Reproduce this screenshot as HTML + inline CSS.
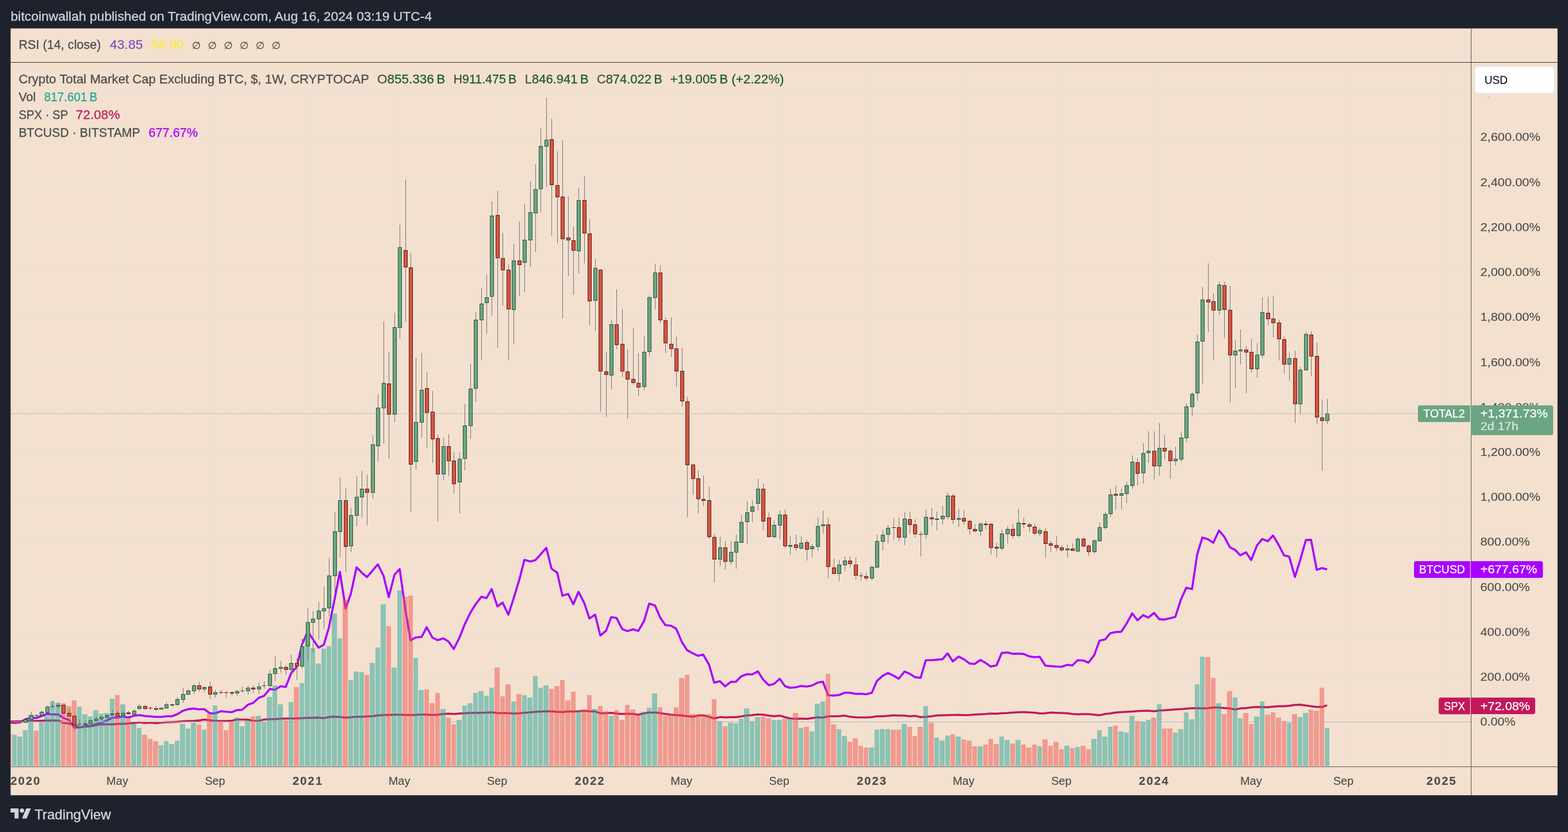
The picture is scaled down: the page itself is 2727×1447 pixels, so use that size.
<!DOCTYPE html>
<html lang="en"><head><meta charset="utf-8"><title>TOTAL2 chart — TradingView</title>
<style>html,body{margin:0;padding:0;background:#1e222d;}body{width:2727px;height:1447px;overflow:hidden}svg{display:block}text{white-space:pre}</style>
</head><body>
<svg width="2727" height="1447" viewBox="0 0 2727 1447" font-family="'Liberation Sans', sans-serif">
<rect width="2727" height="1447" fill="#1e222d"/>
<rect x="18.45" y="49.45" width="2690.3" height="1333.65" fill="#f3e0cf"/>
<path d="M18.5 1177.5H2558M18.5 1099.5H2558M18.5 1021.5H2558M18.5 942.5H2558M18.5 864.5H2558M18.5 786.5H2558M18.5 708.5H2558M18.5 630.5H2558M18.5 551.5H2558M18.5 473.5H2558M18.5 395.5H2558M18.5 317.5H2558M18.5 238.5H2558M18.5 160.5H2558M44.5 109V1333M204.5 109V1333M374.5 109V1333M535.5 109V1333M695.5 109V1333M865.5 109V1333M1025.5 109V1333M1186.5 109V1333M1356.5 109V1333M1516.5 109V1333M1676.5 109V1333M1846.5 109V1333M2007.5 109V1333M2176.5 109V1333M2337.5 109V1333M2507.5 109V1333" stroke="#e3e3e4" stroke-width="1" fill="none"/>
<clipPath id="pc"><rect x="18.5" y="109" width="2539.5" height="1224"/></clipPath>
<g clip-path="url(#pc)">
<polyline points="16.1,1256.3 25.1,1257.2 35.1,1256.3 44.1,1251.1 54.1,1248.3 63.1,1248.8 72.1,1245.5 82.1,1241.7 91.1,1242.6 101.1,1242.6 110.1,1248.6 120.1,1252.1 129.1,1265.2 138.1,1265.2 148.1,1262.9 157.1,1262.4 167.1,1259.1 176.1,1257.2 186.1,1252.9 195.1,1248.3 204.1,1248.3 214.1,1246 223.1,1248 233.1,1244.9 242.1,1243.7 252.1,1245.2 261.1,1246 271.1,1246.8 280.1,1246.8 289.1,1245.7 299.1,1245.7 308.1,1242.2 318.1,1236.3 327.1,1233.4 337.1,1232.2 346.1,1233.7 355.1,1233.3 365.1,1240.6 374.1,1240.6 384.1,1237 393.1,1237.7 403.1,1238.7 412.1,1235 421.1,1234.5 431.1,1225.6 440.1,1222.5 450.1,1213.5 459.1,1210.4 469.1,1198.3 478.1,1199.5 488.1,1193.5 497.1,1194.7 506.1,1171.3 516.1,1159.7 525.1,1121.1 535.1,1098.1 544.1,1111.4 554.1,1126.4 563.1,1121.5 572.1,1090.9 582.1,1041.4 591.1,994.6 601.1,1058.3 610.1,1032.9 620.1,986.6 629.1,995.8 638.1,1003.7 648.1,992.2 657.1,981.3 667.1,1001.8 676.1,1038.5 686.1,999.4 695.1,989.7 705.1,1060.7 714.1,1113.8 723.1,1108.5 733.1,1107.8 742.1,1090.9 752.1,1109 761.1,1113.3 771.1,1110.2 780.1,1115.7 789.1,1128.8 799.1,1109 808.1,1086 818.1,1065.5 827.1,1051 837.1,1037.8 846.1,1040.2 855.1,1024.5 865.1,1054.7 874.1,1047.9 884.1,1069.1 893.1,1041.4 903.1,1008.2 912.1,973.7 922.1,976.5 931.1,974.2 940.1,964.2 950.1,952.8 959.1,988.9 969.1,996 978.1,1036.1 988.1,1032.9 997.1,1051 1006.1,1029.3 1016.1,1048.6 1025.1,1075.7 1035.1,1069.1 1044.1,1105.4 1054.1,1096.9 1063.1,1073.2 1072.1,1074.7 1082.1,1094 1091.1,1097.6 1101.1,1094.5 1110.1,1097.4 1120.1,1080 1129.1,1049.8 1139.1,1053 1148.1,1074 1157.1,1087.2 1167.1,1088.3 1176.1,1093.6 1186.1,1117.1 1195.1,1130.9 1205.1,1136.3 1214.1,1140.6 1223.1,1138.6 1233.1,1156 1242.1,1187.2 1252.1,1184.7 1261.1,1193.6 1271.1,1185.9 1280.1,1185.6 1289.1,1176.2 1299.1,1172.5 1308.1,1173 1318.1,1167.7 1327.1,1181.8 1337.1,1191.7 1346.1,1189.5 1356.1,1180.5 1365.1,1193.3 1374.1,1196.3 1384.1,1195.3 1393.1,1193.1 1403.1,1194 1412.1,1192.3 1422.1,1187.2 1431.1,1185.5 1440.1,1209.2 1450.1,1209.6 1459.1,1208.7 1469.1,1204.8 1478.1,1204.8 1488.1,1206.7 1497.1,1206.5 1506.1,1207.5 1516.1,1205.1 1525.1,1184.3 1535.1,1175.4 1544.1,1170.5 1554.1,1175.1 1563.1,1180.5 1573.1,1167.8 1582.1,1171.8 1591.1,1177.6 1601.1,1178.9 1610.1,1148.2 1620.1,1148.2 1629.1,1147.4 1639.1,1146.5 1648.1,1136.3 1657.1,1150.3 1667.1,1141.9 1676.1,1146.4 1686.1,1153.9 1695.1,1154.8 1705.1,1147.8 1714.1,1152.9 1723.1,1159.3 1733.1,1157.3 1742.1,1135.6 1752.1,1134.8 1761.1,1137.1 1771.1,1136.7 1780.1,1137.4 1790.1,1141.6 1799.1,1143 1808.1,1142.2 1818.1,1157.8 1827.1,1158.5 1837.1,1159.3 1846.1,1159.8 1856.1,1156.2 1865.1,1157.3 1874.1,1148.3 1884.1,1148.7 1893.1,1152.5 1903.1,1139.1 1912.1,1114.3 1922.1,1111.9 1931.1,1101.2 1940.1,1099.3 1950.1,1098.8 1959.1,1084.8 1969.1,1066.7 1978.1,1078.8 1988.1,1069.9 1997.1,1074.2 2007.1,1066 2016.1,1076.9 2025.1,1077.6 2035.1,1075.2 2044.1,1072.8 2054.1,1041.9 2063.1,1022.3 2073.1,1024.6 2082.1,964.1 2091.1,934.9 2101.1,938 2110.1,944.1 2120.1,922.6 2129.1,933.4 2139.1,951.8 2148.1,956.4 2157.1,965.7 2167.1,960.7 2176.1,974 2186.1,948.6 2195.1,937.5 2205.1,941.3 2214.1,931.3 2224.1,948.3 2233.1,965.8 2242.1,968.1 2252.1,1003.4 2261.1,974.5 2271.1,939.2 2280.1,938.9 2290.1,991.1 2299.1,988 2308.1,990.2" fill="none" stroke="#aa00ff" stroke-width="3.6" stroke-linejoin="round" stroke-linecap="butt"/>
<polyline points="16.1,1254.8 25.1,1254.8 35.1,1254.4 44.1,1254.1 54.1,1253.8 63.1,1254.1 72.1,1253.4 82.1,1253.2 91.1,1252.9 101.1,1253.2 110.1,1257.2 120.1,1258.3 129.1,1260.6 138.1,1264.9 148.1,1263.7 157.1,1263.4 167.1,1261.4 176.1,1259.8 186.1,1259.8 195.1,1259.8 204.1,1259.1 214.1,1259.1 223.1,1258.3 233.1,1257.5 242.1,1256.3 252.1,1257.5 261.1,1256.8 271.1,1257.8 280.1,1256.8 289.1,1256 299.1,1255.7 308.1,1255.2 318.1,1254.4 327.1,1254.1 337.1,1253.7 346.1,1252.9 355.1,1251.4 365.1,1252.7 374.1,1253.9 384.1,1253.9 393.1,1253.9 403.1,1253.4 412.1,1251.4 421.1,1251.4 431.1,1251.4 440.1,1253.9 450.1,1253.9 459.1,1251.4 469.1,1250.7 478.1,1250.7 488.1,1249.8 497.1,1249.8 506.1,1249.5 516.1,1249.5 525.1,1249 535.1,1248.3 544.1,1248.6 554.1,1248.1 563.1,1249 572.1,1247.1 582.1,1246.6 591.1,1247.1 601.1,1248.1 610.1,1247.6 620.1,1246.6 629.1,1246.6 638.1,1246.1 648.1,1245.4 657.1,1244.2 667.1,1243.5 676.1,1243.5 686.1,1243 695.1,1243 705.1,1243.4 714.1,1243.4 723.1,1243.2 733.1,1242.7 742.1,1242.7 752.1,1243.4 761.1,1243 771.1,1241.7 780.1,1241.3 789.1,1241.7 799.1,1241 808.1,1240.5 818.1,1240.1 827.1,1239.8 837.1,1239.8 846.1,1239.3 855.1,1239.1 865.1,1240.1 874.1,1240.3 884.1,1240.3 893.1,1241 903.1,1240.5 912.1,1239.8 922.1,1238.8 931.1,1238.1 940.1,1237.4 950.1,1236.9 959.1,1237.2 969.1,1238.1 978.1,1238.6 988.1,1237.2 997.1,1237.6 1006.1,1236.9 1016.1,1236.2 1025.1,1236.9 1035.1,1237.4 1044.1,1240.5 1054.1,1240.3 1063.1,1239.8 1072.1,1241 1082.1,1241.7 1091.1,1241.3 1101.1,1241.7 1110.1,1243 1120.1,1240.5 1129.1,1239.3 1139.1,1239.3 1148.1,1240.1 1157.1,1241.7 1167.1,1243 1176.1,1243.7 1186.1,1244.2 1195.1,1245.4 1205.1,1246.6 1214.1,1244.2 1223.1,1244.2 1233.1,1246.6 1242.1,1249.5 1252.1,1247.1 1261.1,1247.8 1271.1,1247.3 1280.1,1247.3 1289.1,1246.1 1299.1,1244.2 1308.1,1243.7 1318.1,1242.5 1327.1,1243 1337.1,1244.6 1346.1,1245.8 1356.1,1244.6 1365.1,1247.3 1374.1,1249.5 1384.1,1250.2 1393.1,1249.7 1403.1,1250.2 1412.1,1249 1422.1,1247.5 1431.1,1248.3 1440.1,1245.8 1450.1,1245.8 1459.1,1245.4 1469.1,1244.6 1478.1,1246.6 1488.1,1247.5 1497.1,1247.8 1506.1,1247.8 1516.1,1247.3 1525.1,1245.8 1535.1,1245.8 1544.1,1244.9 1554.1,1243.9 1563.1,1244.4 1573.1,1244.4 1582.1,1245.8 1591.1,1244.9 1601.1,1247.3 1610.1,1246.8 1620.1,1245.8 1629.1,1244.2 1639.1,1243.9 1648.1,1243.7 1657.1,1243.4 1667.1,1243.2 1676.1,1243.7 1686.1,1243.4 1695.1,1242.7 1705.1,1242.2 1714.1,1241.7 1723.1,1241 1733.1,1241.3 1742.1,1240.5 1752.1,1240.1 1761.1,1239.3 1771.1,1238.8 1780.1,1238.4 1790.1,1239.1 1799.1,1239.6 1808.1,1240.8 1818.1,1240.5 1827.1,1239.3 1837.1,1239.8 1846.1,1240.1 1856.1,1240.5 1865.1,1241.7 1874.1,1242.2 1884.1,1242 1893.1,1242 1903.1,1243 1912.1,1243.9 1922.1,1241.7 1931.1,1240.8 1940.1,1239.3 1950.1,1238.6 1959.1,1238.1 1969.1,1237.6 1978.1,1236.7 1988.1,1236.2 1997.1,1236 2007.1,1236.9 2016.1,1235.7 2025.1,1235.2 2035.1,1234.5 2044.1,1233.8 2054.1,1233.3 2063.1,1232.6 2073.1,1231.8 2082.1,1231.6 2091.1,1232.1 2101.1,1231.6 2110.1,1230.4 2120.1,1230.4 2129.1,1231.4 2139.1,1232.1 2148.1,1234 2157.1,1232.1 2167.1,1231.4 2176.1,1230.2 2186.1,1229.4 2195.1,1229.7 2205.1,1229.9 2214.1,1228.9 2224.1,1228.2 2233.1,1228.2 2242.1,1227.6 2252.1,1226 2261.1,1225.4 2271.1,1227 2280.1,1228.2 2290.1,1229.5 2299.1,1229.5 2308.1,1226.7" fill="none" stroke="#c2185b" stroke-width="3.5" stroke-linejoin="round" stroke-linecap="butt"/>
<path d="M21 1278H29V1332H21zM30 1281H39V1332H30zM40 1270H48V1332H40zM49 1243H58V1332H49zM68 1256H76V1332H68zM77 1245H86V1332H77zM87 1220H95V1332H87zM96 1222H105V1332H96zM134 1229H142V1332H134zM143 1242H152V1332H143zM153 1246H161V1332H153zM162 1235H171V1332H162zM172 1241H180V1332H172zM181 1240H190V1332H181zM191 1215H199V1332H191zM209 1225H218V1332H209zM228 1258H237V1332H228zM238 1266H246V1332H238zM276 1296H284V1332H276zM285 1289H293V1332H285zM294 1294H303V1332H294zM304 1288H312V1332H304zM313 1259H322V1332H313zM323 1267H331V1332H323zM332 1257H341V1332H332zM351 1269H359V1332H351zM370 1227H378V1332H370zM408 1248H416V1332H408zM417 1263H425V1332H417zM426 1253H435V1332H426zM445 1245H454V1332H445zM455 1255H463V1332H455zM464 1212H473V1332H464zM474 1192H482V1332H474zM483 1225H492V1332H483zM502 1221H510V1332H502zM521 1188H529V1332H521zM530 1107H539V1332H530zM540 1127H548V1332H540zM549 1154H558V1332H549zM559 1128H567V1332H559zM568 1124H576V1332H568zM577 1067H586V1332H577zM587 1110H595V1332H587zM606 1183H614V1332H606zM615 1168H624V1332H615zM625 1169H633V1332H625zM643 1153H652V1332H643zM653 1126H661V1332H653zM662 1051H671V1332H662zM681 1161H690V1332H681zM691 1027H699V1332H691zM719 1144H727V1332H719zM728 1200H737V1332H728zM766 1233H775V1332H766zM794 1252H803V1332H794zM804 1227H812V1332H804zM813 1223H822V1332H813zM823 1205H831V1332H823zM832 1202H841V1332H832zM842 1210H850V1332H842zM851 1196H859V1332H851zM889 1220H897V1332H889zM908 1209H916V1332H908zM917 1213H926V1332H917zM927 1176H935V1332H927zM936 1196H944V1332H936zM945 1192H954V1332H945zM1002 1236H1010V1332H1002zM1030 1233H1039V1332H1030zM1059 1245H1067V1332H1059zM1115 1238H1124V1332H1115zM1125 1231H1133V1332H1125zM1134 1206H1143V1332H1134zM1247 1254H1256V1332H1247zM1266 1257H1275V1332H1266zM1276 1258H1284V1332H1276zM1285 1250H1293V1332H1285zM1294 1232H1303V1332H1294zM1304 1254H1312V1332H1304zM1313 1247H1322V1332H1313zM1342 1252H1350V1332H1342zM1351 1252H1360V1332H1351zM1370 1250H1378V1332H1370zM1389 1266H1397V1332H1389zM1408 1272H1416V1332H1408zM1417 1224H1426V1332H1417zM1427 1220H1435V1332H1427zM1455 1268H1463V1332H1455zM1464 1280H1473V1332H1464zM1511 1300H1520V1332H1511zM1521 1269H1529V1332H1521zM1530 1268H1539V1332H1530zM1540 1268H1548V1332H1540zM1568 1259H1577V1332H1568zM1606 1228H1614V1332H1606zM1625 1283H1633V1332H1625zM1634 1288H1643V1332H1634zM1644 1279H1652V1332H1644zM1662 1281H1671V1332H1662zM1700 1298H1709V1332H1700zM1738 1281H1746V1332H1738zM1747 1287H1756V1332H1747zM1766 1287H1775V1332H1766zM1804 1298H1812V1332H1804zM1851 1297H1860V1332H1851zM1870 1299H1878V1332H1870zM1898 1285H1907V1332H1898zM1908 1270H1916V1332H1908zM1917 1281H1926V1332H1917zM1927 1264H1935V1332H1927zM1945 1272H1954V1332H1945zM1955 1274H1963V1332H1955zM1964 1245H1973V1332H1964zM1983 1255H1992V1332H1983zM1993 1252H2001V1332H1993zM2012 1225H2020V1332H2012zM2040 1274H2048V1332H2040zM2049 1268H2058V1332H2049zM2059 1239H2067V1332H2059zM2068 1251H2077V1332H2068zM2078 1190H2086V1332H2078zM2087 1142H2095V1332H2087zM2115 1223H2124V1332H2115zM2144 1213H2152V1332H2144zM2153 1249H2161V1332H2153zM2181 1246H2190V1332H2181zM2191 1220H2199V1332H2191zM2238 1257H2246V1332H2238zM2257 1247H2265V1332H2257zM2266 1240H2275V1332H2266zM2304 1266H2312V1332H2304z" fill="rgba(38,166,154,0.5)"/>
<path d="M11 1276H20V1332H11zM59 1271H67V1332H59zM106 1223H114V1332H106zM115 1228H124V1332H115zM125 1218H133V1332H125zM200 1209H208V1332H200zM219 1248H227V1332H219zM247 1278H256V1332H247zM257 1285H265V1332H257zM266 1289H275V1332H266zM342 1260H350V1332H342zM360 1241H369V1332H360zM379 1254H388V1332H379zM389 1270H397V1332H389zM398 1255H407V1332H398zM436 1246H444V1332H436zM493 1253H501V1332H493zM511 1195H520V1332H511zM596 1043H605V1332H596zM634 1174H642V1332H634zM672 1089H680V1332H672zM700 1038H709V1332H700zM710 1036H718V1332H710zM738 1199H746V1332H738zM747 1223H756V1332H747zM757 1205H765V1332H757zM776 1248H784V1332H776zM785 1260H793V1332H785zM860 1161H869V1332H860zM870 1211H878V1332H870zM879 1190H888V1332H879zM898 1207H907V1332H898zM955 1198H963V1332H955zM964 1193H973V1332H964zM974 1183H982V1332H974zM983 1218H992V1332H983zM993 1203H1001V1332H993zM1011 1234H1020V1332H1011zM1021 1209H1029V1332H1021zM1040 1228H1048V1332H1040zM1049 1237H1058V1332H1049zM1068 1235H1076V1332H1068zM1077 1252H1086V1332H1077zM1087 1226H1095V1332H1087zM1096 1234H1105V1332H1096zM1106 1243H1114V1332H1106zM1144 1230H1152V1332H1144zM1153 1245H1161V1332H1153zM1162 1242H1171V1332H1162zM1172 1230H1180V1332H1172zM1181 1179H1190V1332H1181zM1191 1174H1199V1332H1191zM1200 1242H1209V1332H1200zM1210 1243H1218V1332H1210zM1219 1244H1227V1332H1219zM1228 1242H1237V1332H1228zM1238 1216H1246V1332H1238zM1257 1263H1265V1332H1257zM1323 1246H1331V1332H1323zM1332 1249H1341V1332H1332zM1361 1250H1369V1332H1361zM1379 1240H1388V1332H1379zM1398 1264H1407V1332H1398zM1436 1172H1444V1332H1436zM1445 1260H1454V1332H1445zM1474 1290H1482V1332H1474zM1483 1284H1492V1332H1483zM1493 1297H1501V1332H1493zM1502 1300H1510V1332H1502zM1549 1269H1558V1332H1549zM1559 1269H1567V1332H1559zM1578 1264H1586V1332H1578zM1587 1280H1595V1332H1587zM1596 1264H1605V1332H1596zM1615 1257H1624V1332H1615zM1653 1277H1661V1332H1653zM1672 1286H1680V1332H1672zM1681 1288H1690V1332H1681zM1691 1298H1699V1332H1691zM1710 1295H1718V1332H1710zM1719 1285H1727V1332H1719zM1728 1294H1737V1332H1728zM1757 1293H1765V1332H1757zM1776 1295H1784V1332H1776zM1785 1300H1794V1332H1785zM1795 1295H1803V1332H1795zM1813 1286H1822V1332H1813zM1823 1297H1831V1332H1823zM1832 1290H1841V1332H1832zM1842 1303H1850V1332H1842zM1861 1301H1869V1332H1861zM1879 1297H1888V1332H1879zM1889 1303H1897V1332H1889zM1936 1262H1944V1332H1936zM1974 1254H1982V1332H1974zM2002 1248H2011V1332H2002zM2021 1267H2029V1332H2021zM2030 1267H2039V1332H2030zM2096 1143H2105V1332H2096zM2106 1179H2114V1332H2106zM2125 1242H2133V1332H2125zM2134 1202H2143V1332H2134zM2162 1240H2171V1332H2162zM2172 1259H2180V1332H2172zM2200 1243H2209V1332H2200zM2210 1239H2218V1332H2210zM2219 1248H2228V1332H2219zM2229 1254H2237V1332H2229zM2247 1242H2256V1332H2247zM2276 1234H2284V1332H2276zM2285 1236H2294V1332H2285zM2295 1196H2303V1332H2295z" fill="rgba(239,83,80,0.5)"/>
<path d="M18.5 1255.5H2558" stroke="#aeb2bd" stroke-width="1" fill="none"/>
<path d="M16 1255h1V1258h-1zM25 1256h1V1259h-1zM35 1255h1V1258h-1zM44 1251h1V1257h-1zM54 1238h1V1252h-1zM63 1242h1V1248h-1zM72 1236h1V1245h-1zM82 1227h1V1240h-1zM91 1218h1V1233h-1zM101 1222h1V1234h-1zM110 1225h1V1242h-1zM120 1233h1V1246h-1zM129 1242h1V1270h-1zM138 1251h1V1267h-1zM148 1253h1V1261h-1zM157 1251h1V1259h-1zM167 1245h1V1254h-1zM176 1245h1V1253h-1zM186 1243h1V1250h-1zM195 1235h1V1245h-1zM204 1237h1V1248h-1zM214 1237h1V1248h-1zM223 1236h1V1243h-1zM233 1233h1V1247h-1zM242 1225h1V1234h-1zM252 1226h1V1234h-1zM261 1229h1V1235h-1zM271 1228h1V1236h-1zM280 1230h1V1234h-1zM289 1221h1V1232h-1zM299 1224h1V1229h-1zM308 1212h1V1227h-1zM318 1196h1V1222h-1zM327 1198h1V1209h-1zM337 1190h1V1207h-1zM346 1186h1V1203h-1zM355 1194h1V1204h-1zM365 1185h1V1216h-1zM374 1200h1V1213h-1zM384 1200h1V1207h-1zM393 1202h1V1214h-1zM403 1202h1V1210h-1zM412 1200h1V1210h-1zM421 1194h1V1205h-1zM431 1192h1V1208h-1zM440 1192h1V1205h-1zM450 1187h1V1207h-1zM459 1185h1V1198h-1zM469 1165h1V1195h-1zM478 1141h1V1185h-1zM488 1149h1V1170h-1zM497 1157h1V1174h-1zM506 1138h1V1169h-1zM516 1145h1V1182h-1zM525 1111h1V1163h-1zM535 1057h1V1149h-1zM544 1063h1V1135h-1zM554 1047h1V1112h-1zM563 1020h1V1094h-1zM572 970h1V1072h-1zM582 891h1V1032h-1zM591 830h1V969h-1zM601 849h1V995h-1zM610 884h1V960h-1zM620 828h1V915h-1zM629 819h1V900h-1zM638 826h1V914h-1zM648 757h1V868h-1zM657 686h1V802h-1zM667 559h1V772h-1zM676 612h1V798h-1zM686 544h1V734h-1zM695 391h1V589h-1zM705 312h1V560h-1zM714 440h1V890h-1zM723 622h1V817h-1zM733 614h1V761h-1zM742 647h1V780h-1zM752 680h1V805h-1zM761 756h1V907h-1zM771 761h1V835h-1zM780 755h1V828h-1zM789 787h1V858h-1zM799 787h1V893h-1zM808 703h1V818h-1zM818 633h1V763h-1zM827 543h1V699h-1zM837 501h1V627h-1zM846 478h1V580h-1zM855 350h1V549h-1zM865 332h1V605h-1zM874 405h1V532h-1zM884 460h1V627h-1zM893 424h1V599h-1zM903 385h1V515h-1zM912 354h1V508h-1zM922 315h1V464h-1zM931 286h1V438h-1zM940 223h1V369h-1zM950 170h1V325h-1zM959 207h1V410h-1zM969 263h1V423h-1zM978 244h1V554h-1zM988 342h1V480h-1zM997 394h1V513h-1zM1006 327h1V476h-1zM1016 306h1V458h-1zM1025 381h1V566h-1zM1035 450h1V576h-1zM1044 468h1V716h-1zM1054 612h1V725h-1zM1063 556h1V677h-1zM1072 503h1V607h-1zM1082 537h1V656h-1zM1091 607h1V729h-1zM1101 570h1V669h-1zM1110 614h1V688h-1zM1120 585h1V679h-1zM1129 514h1V620h-1zM1139 459h1V538h-1zM1148 462h1V562h-1zM1157 552h1V614h-1zM1167 552h1V621h-1zM1176 585h1V673h-1zM1186 605h1V707h-1zM1195 690h1V899h-1zM1205 806h1V861h-1zM1214 818h1V893h-1zM1223 827h1V880h-1zM1233 847h1V937h-1zM1242 929h1V1013h-1zM1252 933h1V985h-1zM1261 941h1V991h-1zM1271 941h1V982h-1zM1280 930h1V989h-1zM1289 895h1V944h-1zM1299 871h1V946h-1zM1308 870h1V908h-1zM1318 833h1V888h-1zM1327 841h1V922h-1zM1337 891h1V934h-1zM1346 905h1V936h-1zM1356 888h1V938h-1zM1365 886h1V953h-1zM1374 933h1V965h-1zM1384 930h1V958h-1zM1393 933h1V956h-1zM1403 939h1V975h-1zM1412 946h1V969h-1zM1422 900h1V958h-1zM1431 888h1V928h-1zM1440 901h1V1006h-1zM1450 971h1V999h-1zM1459 974h1V1011h-1zM1469 968h1V994h-1zM1478 968h1V987h-1zM1488 969h1V1008h-1zM1497 996h1V1010h-1zM1506 996h1V1010h-1zM1516 984h1V1009h-1zM1525 930h1V988h-1zM1535 921h1V957h-1zM1544 913h1V945h-1zM1554 901h1V938h-1zM1563 900h1V941h-1zM1573 891h1V948h-1zM1582 890h1V928h-1zM1591 903h1V935h-1zM1601 924h1V968h-1zM1610 886h1V937h-1zM1620 883h1V915h-1zM1629 890h1V922h-1zM1639 880h1V912h-1zM1648 857h1V903h-1zM1657 859h1V911h-1zM1667 885h1V916h-1zM1676 887h1V913h-1zM1686 903h1V930h-1zM1695 912h1V926h-1zM1705 908h1V933h-1zM1714 906h1V921h-1zM1723 910h1V965h-1zM1733 944h1V969h-1zM1742 921h1V957h-1zM1752 915h1V945h-1zM1761 912h1V937h-1zM1771 885h1V934h-1zM1780 900h1V918h-1zM1790 909h1V925h-1zM1799 911h1V931h-1zM1808 918h1V933h-1zM1818 919h1V970h-1zM1827 941h1V961h-1zM1837 932h1V958h-1zM1846 948h1V960h-1zM1856 947h1V970h-1zM1865 945h1V958h-1zM1874 934h1V960h-1zM1884 934h1V953h-1zM1893 947h1V967h-1zM1903 938h1V963h-1zM1912 909h1V942h-1zM1922 890h1V921h-1zM1931 850h1V899h-1zM1940 844h1V885h-1zM1950 850h1V886h-1zM1959 838h1V875h-1zM1969 792h1V850h-1zM1978 797h1V844h-1zM1988 771h1V841h-1zM1997 750h1V805h-1zM2007 750h1V834h-1zM2016 736h1V827h-1zM2025 756h1V799h-1zM2035 781h1V833h-1zM2044 777h1V810h-1zM2054 752h1V803h-1zM2063 702h1V769h-1zM2073 682h1V724h-1zM2082 582h1V697h-1zM2091 499h1V667h-1zM2101 458h1V578h-1zM2110 510h1V627h-1zM2120 490h1V548h-1zM2129 490h1V588h-1zM2139 497h1V701h-1zM2148 592h1V675h-1zM2157 573h1V634h-1zM2167 602h1V684h-1zM2176 590h1V648h-1zM2186 597h1V657h-1zM2195 517h1V623h-1zM2205 516h1V566h-1zM2214 514h1V587h-1zM2224 556h1V627h-1zM2233 585h1V649h-1zM2242 613h1V662h-1zM2252 610h1V736h-1zM2261 638h1V720h-1zM2271 577h1V644h-1zM2280 576h1V654h-1zM2290 596h1V737h-1zM2299 696h1V819h-1zM2308 694h1V737h-1z" fill="#737375"/>
<path d="M22 1257h7V1258h-7zM32 1256h7V1257h-7zM41 1251h7V1257h-7zM51 1244h7V1252h-7zM69 1238h7V1245h-7zM79 1229h7V1240h-7zM88 1228h7V1229h-7zM98 1226h7V1229h-7zM135 1259h7V1260h-7zM145 1258h7V1261h-7zM154 1253h7V1259h-7zM164 1250h7V1254h-7zM173 1247h7V1251h-7zM183 1244h7V1248h-7zM192 1241h7V1244h-7zM211 1240h7V1245h-7zM230 1236h7V1243h-7zM239 1228h7V1233h-7zM277 1231h7V1234h-7zM286 1225h7V1232h-7zM296 1225h7V1227h-7zM305 1216h7V1226h-7zM315 1207h7V1217h-7zM324 1201h7V1208h-7zM334 1192h7V1202h-7zM352 1195h7V1199h-7zM371 1204h7V1208h-7zM409 1202h7V1206h-7zM418 1201h7V1202h-7zM428 1196h7V1202h-7zM447 1194h7V1199h-7zM456 1192h7V1193h-7zM466 1172h7V1193h-7zM475 1162h7V1172h-7zM485 1160h7V1163h-7zM503 1153h7V1165h-7zM522 1124h7V1159h-7zM532 1082h7V1124h-7zM541 1076h7V1083h-7zM551 1062h7V1077h-7zM560 1058h7V1063h-7zM569 1001h7V1058h-7zM579 924h7V1002h-7zM588 870h7V925h-7zM607 896h7V950h-7zM617 864h7V897h-7zM626 850h7V865h-7zM645 773h7V857h-7zM654 709h7V776h-7zM664 666h7V710h-7zM683 569h7V721h-7zM692 430h7V570h-7zM720 734h7V803h-7zM730 678h7V735h-7zM768 776h7V825h-7zM796 798h7V839h-7zM805 740h7V798h-7zM815 676h7V741h-7zM824 556h7V676h-7zM834 528h7V557h-7zM843 517h7V527h-7zM852 375h7V516h-7zM890 453h7V539h-7zM909 417h7V457h-7zM919 369h7V418h-7zM928 329h7V371h-7zM937 254h7V329h-7zM947 243h7V255h-7zM1003 348h7V437h-7zM1032 466h7V523h-7zM1060 564h7V653h-7zM1117 612h7V673h-7zM1126 517h7V612h-7zM1136 474h7V518h-7zM1249 952h7V973h-7zM1268 960h7V977h-7zM1277 942h7V961h-7zM1286 908h7V944h-7zM1296 891h7V908h-7zM1305 881h7V890h-7zM1315 850h7V876h-7zM1343 913h7V934h-7zM1353 895h7V914h-7zM1371 948h7V951h-7zM1390 944h7V954h-7zM1409 950h7V955h-7zM1419 915h7V951h-7zM1428 912h7V915h-7zM1456 982h7V998h-7zM1466 975h7V983h-7zM1513 986h7V1006h-7zM1522 941h7V987h-7zM1532 930h7V942h-7zM1541 918h7V930h-7zM1570 902h7V935h-7zM1607 899h7V930h-7zM1626 902h7V904h-7zM1636 897h7V903h-7zM1645 862h7V899h-7zM1664 901h7V904h-7zM1702 911h7V924h-7zM1739 928h7V954h-7zM1749 920h7V929h-7zM1768 909h7V932h-7zM1805 922h7V928h-7zM1853 954h7V957h-7zM1871 937h7V959h-7zM1900 940h7V960h-7zM1909 917h7V941h-7zM1919 894h7V918h-7zM1928 860h7V894h-7zM1947 858h7V862h-7zM1956 844h7V859h-7zM1966 803h7V845h-7zM1985 788h7V823h-7zM1994 784h7V788h-7zM2013 779h7V811h-7zM2041 798h7V802h-7zM2051 761h7V799h-7zM2060 707h7V762h-7zM2070 685h7V708h-7zM2079 594h7V684h-7zM2088 521h7V594h-7zM2117 495h7V540h-7zM2145 610h7V618h-7zM2154 608h7V611h-7zM2183 617h7V642h-7zM2192 543h7V618h-7zM2239 623h7V634h-7zM2258 643h7V703h-7zM2268 581h7V644h-7zM2305 719h7V732h-7z" fill="#225437"/>
<path d="M13 1255h7V1258h-7zM60 1244h7V1245h-7zM107 1226h7V1241h-7zM117 1240h7V1246h-7zM126 1245h7V1261h-7zM201 1240h7V1246h-7zM220 1239h7V1242h-7zM249 1228h7V1233h-7zM258 1231h7V1232h-7zM268 1232h7V1234h-7zM343 1192h7V1199h-7zM362 1194h7V1208h-7zM381 1204h7V1205h-7zM390 1204h7V1205h-7zM400 1204h7V1206h-7zM437 1196h7V1199h-7zM494 1160h7V1165h-7zM513 1153h7V1159h-7zM598 870h7V951h-7zM635 850h7V857h-7zM673 667h7V721h-7zM702 435h7V465h-7zM711 465h7V808h-7zM739 675h7V718h-7zM749 716h7V764h-7zM758 762h7V825h-7zM777 776h7V802h-7zM786 801h7V842h-7zM862 374h7V449h-7zM871 449h7V470h-7zM881 469h7V538h-7zM900 453h7V461h-7zM956 242h7V322h-7zM966 322h7V343h-7zM975 342h7V416h-7zM985 413h7V418h-7zM994 418h7V436h-7zM1013 348h7V406h-7zM1022 406h7V524h-7zM1041 469h7V646h-7zM1051 646h7V652h-7zM1069 564h7V600h-7zM1079 598h7V646h-7zM1088 646h7V660h-7zM1098 659h7V666h-7zM1107 666h7V674h-7zM1145 474h7V557h-7zM1154 557h7V597h-7zM1164 598h7V607h-7zM1173 606h7V646h-7zM1183 645h7V698h-7zM1192 698h7V809h-7zM1202 808h7V833h-7zM1211 832h7V868h-7zM1220 868h7V871h-7zM1230 870h7V934h-7zM1239 934h7V973h-7zM1258 952h7V977h-7zM1324 850h7V907h-7zM1334 900h7V934h-7zM1362 895h7V950h-7zM1381 947h7V953h-7zM1400 943h7V956h-7zM1437 912h7V986h-7zM1447 987h7V998h-7zM1475 975h7V981h-7zM1485 982h7V1001h-7zM1494 1001h7V1002h-7zM1503 1002h7V1006h-7zM1551 917h7V918h-7zM1560 917h7V935h-7zM1579 903h7V913h-7zM1588 912h7V929h-7zM1598 929h7V930h-7zM1617 900h7V903h-7zM1654 862h7V904h-7zM1673 901h7V907h-7zM1683 906h7V920h-7zM1692 920h7V924h-7zM1711 911h7V913h-7zM1720 911h7V953h-7zM1730 951h7V954h-7zM1758 920h7V932h-7zM1777 910h7V912h-7zM1787 912h7V916h-7zM1796 916h7V928h-7zM1815 924h7V946h-7zM1824 945h7V949h-7zM1834 948h7V953h-7zM1843 952h7V957h-7zM1862 954h7V958h-7zM1881 937h7V950h-7zM1890 949h7V960h-7zM1937 859h7V862h-7zM1975 804h7V824h-7zM2004 784h7V811h-7zM2022 779h7V785h-7zM2032 784h7V802h-7zM2098 521h7V526h-7zM2107 524h7V540h-7zM2126 496h7V539h-7zM2136 539h7V618h-7zM2164 608h7V613h-7zM2173 612h7V642h-7zM2202 544h7V555h-7zM2211 554h7V562h-7zM2221 561h7V590h-7zM2230 590h7V634h-7zM2249 623h7V703h-7zM2277 582h7V620h-7zM2287 619h7V726h-7zM2296 726h7V732h-7z" fill="#5b1a13"/>
<path d="M42 1252h5V1256h-5zM52 1245h5V1251h-5zM70 1239h5V1244h-5zM80 1230h5V1239h-5zM99 1227h5V1228h-5zM146 1259h5V1260h-5zM155 1254h5V1258h-5zM165 1251h5V1253h-5zM174 1248h5V1250h-5zM184 1245h5V1247h-5zM193 1242h5V1243h-5zM212 1241h5V1244h-5zM231 1237h5V1242h-5zM240 1229h5V1232h-5zM278 1232h5V1233h-5zM287 1226h5V1231h-5zM306 1217h5V1225h-5zM316 1208h5V1216h-5zM325 1202h5V1207h-5zM335 1193h5V1201h-5zM353 1196h5V1198h-5zM372 1205h5V1207h-5zM410 1203h5V1205h-5zM429 1197h5V1201h-5zM448 1195h5V1198h-5zM467 1173h5V1192h-5zM476 1163h5V1171h-5zM486 1161h5V1162h-5zM504 1154h5V1164h-5zM523 1125h5V1158h-5zM533 1083h5V1123h-5zM542 1077h5V1082h-5zM552 1063h5V1076h-5zM561 1059h5V1062h-5zM570 1002h5V1057h-5zM580 925h5V1001h-5zM589 871h5V924h-5zM608 897h5V949h-5zM618 865h5V896h-5zM627 851h5V864h-5zM646 774h5V856h-5zM655 710h5V775h-5zM665 667h5V709h-5zM684 570h5V720h-5zM693 431h5V569h-5zM721 735h5V802h-5zM731 679h5V734h-5zM769 777h5V824h-5zM797 799h5V838h-5zM806 741h5V797h-5zM816 677h5V740h-5zM825 557h5V675h-5zM835 529h5V556h-5zM844 518h5V526h-5zM853 376h5V515h-5zM891 454h5V538h-5zM910 418h5V456h-5zM920 370h5V417h-5zM929 330h5V370h-5zM938 255h5V328h-5zM948 244h5V254h-5zM1004 349h5V436h-5zM1033 467h5V522h-5zM1061 565h5V652h-5zM1118 613h5V672h-5zM1127 518h5V611h-5zM1137 475h5V517h-5zM1250 953h5V972h-5zM1269 961h5V976h-5zM1278 943h5V960h-5zM1287 909h5V943h-5zM1297 892h5V907h-5zM1306 882h5V889h-5zM1316 851h5V875h-5zM1344 914h5V933h-5zM1354 896h5V913h-5zM1372 949h5V950h-5zM1391 945h5V953h-5zM1410 951h5V954h-5zM1420 916h5V950h-5zM1429 913h5V914h-5zM1457 983h5V997h-5zM1467 976h5V982h-5zM1514 987h5V1005h-5zM1523 942h5V986h-5zM1533 931h5V941h-5zM1542 919h5V929h-5zM1571 903h5V934h-5zM1608 900h5V929h-5zM1637 898h5V902h-5zM1646 863h5V898h-5zM1665 902h5V903h-5zM1703 912h5V923h-5zM1740 929h5V953h-5zM1750 921h5V928h-5zM1769 910h5V931h-5zM1806 923h5V927h-5zM1854 955h5V956h-5zM1872 938h5V958h-5zM1901 941h5V959h-5zM1910 918h5V940h-5zM1920 895h5V917h-5zM1929 861h5V893h-5zM1948 859h5V861h-5zM1957 845h5V858h-5zM1967 804h5V844h-5zM1986 789h5V822h-5zM1995 785h5V787h-5zM2014 780h5V810h-5zM2042 799h5V801h-5zM2052 762h5V798h-5zM2061 708h5V761h-5zM2071 686h5V707h-5zM2080 595h5V683h-5zM2089 522h5V593h-5zM2118 496h5V539h-5zM2146 611h5V617h-5zM2155 609h5V610h-5zM2184 618h5V641h-5zM2193 544h5V617h-5zM2240 624h5V633h-5zM2259 644h5V702h-5zM2269 582h5V643h-5zM2306 720h5V731h-5z" fill="#6ba583"/>
<path d="M14 1256h5V1257h-5zM108 1227h5V1240h-5zM118 1241h5V1245h-5zM127 1246h5V1260h-5zM202 1241h5V1245h-5zM221 1240h5V1241h-5zM250 1229h5V1232h-5zM344 1193h5V1198h-5zM363 1195h5V1207h-5zM438 1197h5V1198h-5zM495 1161h5V1164h-5zM514 1154h5V1158h-5zM599 871h5V950h-5zM636 851h5V856h-5zM674 668h5V720h-5zM703 436h5V464h-5zM712 466h5V807h-5zM740 676h5V717h-5zM750 717h5V763h-5zM759 763h5V824h-5zM778 777h5V801h-5zM787 802h5V841h-5zM863 375h5V448h-5zM872 450h5V469h-5zM882 470h5V537h-5zM901 454h5V460h-5zM957 243h5V321h-5zM967 323h5V342h-5zM976 343h5V415h-5zM986 414h5V417h-5zM995 419h5V435h-5zM1014 349h5V405h-5zM1023 407h5V523h-5zM1042 470h5V645h-5zM1052 647h5V651h-5zM1070 565h5V599h-5zM1080 599h5V645h-5zM1089 647h5V659h-5zM1099 660h5V665h-5zM1108 667h5V673h-5zM1146 475h5V556h-5zM1155 558h5V596h-5zM1165 599h5V606h-5zM1174 607h5V645h-5zM1184 646h5V697h-5zM1193 699h5V808h-5zM1203 809h5V832h-5zM1212 833h5V867h-5zM1221 869h5V870h-5zM1231 871h5V933h-5zM1240 935h5V972h-5zM1259 953h5V976h-5zM1325 851h5V906h-5zM1335 901h5V933h-5zM1363 896h5V949h-5zM1382 948h5V952h-5zM1401 944h5V955h-5zM1438 913h5V985h-5zM1448 988h5V997h-5zM1476 976h5V980h-5zM1486 983h5V1000h-5zM1504 1003h5V1005h-5zM1561 918h5V934h-5zM1580 904h5V912h-5zM1589 913h5V928h-5zM1618 901h5V902h-5zM1655 863h5V903h-5zM1674 902h5V906h-5zM1684 907h5V919h-5zM1693 921h5V923h-5zM1721 912h5V952h-5zM1731 952h5V953h-5zM1759 921h5V931h-5zM1788 913h5V915h-5zM1797 917h5V927h-5zM1816 925h5V945h-5zM1825 946h5V948h-5zM1835 949h5V952h-5zM1844 953h5V956h-5zM1863 955h5V957h-5zM1882 938h5V949h-5zM1891 950h5V959h-5zM1938 860h5V861h-5zM1976 805h5V823h-5zM2005 785h5V810h-5zM2023 780h5V784h-5zM2033 785h5V801h-5zM2099 522h5V525h-5zM2108 525h5V539h-5zM2127 497h5V538h-5zM2137 540h5V617h-5zM2165 609h5V612h-5zM2174 613h5V641h-5zM2203 545h5V554h-5zM2212 555h5V561h-5zM2222 562h5V589h-5zM2231 591h5V633h-5zM2250 624h5V702h-5zM2278 583h5V619h-5zM2288 620h5V725h-5zM2297 727h5V731h-5z" fill="#d75442"/>
</g>
<path d="M18.5 719.5H2466" stroke="#6ba583" stroke-width="1.2" stroke-dasharray="1.3 1.7" fill="none"/>
<path d="M18.5 1333.5H2708.7M2558.5 49.5V1383" stroke="#555556" stroke-width="1" fill="none"/>
<path d="M18.5 108.5H2708.7" stroke="#2c2f3b" stroke-width="1" fill="none"/>
<text x="2574.4" y="1184" font-size="20" fill="#4d4d4d" textLength="86.4" lengthAdjust="spacingAndGlyphs" stroke="#4d4d4d" stroke-width="0.15">200.00%</text>
<text x="2574.4" y="1106" font-size="20" fill="#4d4d4d" textLength="86.4" lengthAdjust="spacingAndGlyphs" stroke="#4d4d4d" stroke-width="0.15">400.00%</text>
<text x="2574.4" y="1028" font-size="20" fill="#4d4d4d" textLength="86.4" lengthAdjust="spacingAndGlyphs" stroke="#4d4d4d" stroke-width="0.15">600.00%</text>
<text x="2574.4" y="949" font-size="20" fill="#4d4d4d" textLength="86.4" lengthAdjust="spacingAndGlyphs" stroke="#4d4d4d" stroke-width="0.15">800.00%</text>
<text x="2574.4" y="871" font-size="20" fill="#4d4d4d" textLength="104.6" lengthAdjust="spacingAndGlyphs" stroke="#4d4d4d" stroke-width="0.15">1,000.00%</text>
<text x="2574.4" y="793" font-size="20" fill="#4d4d4d" textLength="104.6" lengthAdjust="spacingAndGlyphs" stroke="#4d4d4d" stroke-width="0.15">1,200.00%</text>
<text x="2574.4" y="715" font-size="20" fill="#4d4d4d" textLength="104.6" lengthAdjust="spacingAndGlyphs" stroke="#4d4d4d" stroke-width="0.15">1,400.00%</text>
<text x="2574.4" y="637" font-size="20" fill="#4d4d4d" textLength="104.6" lengthAdjust="spacingAndGlyphs" stroke="#4d4d4d" stroke-width="0.15">1,600.00%</text>
<text x="2574.4" y="558" font-size="20" fill="#4d4d4d" textLength="104.6" lengthAdjust="spacingAndGlyphs" stroke="#4d4d4d" stroke-width="0.15">1,800.00%</text>
<text x="2574.4" y="480" font-size="20" fill="#4d4d4d" textLength="104.6" lengthAdjust="spacingAndGlyphs" stroke="#4d4d4d" stroke-width="0.15">2,000.00%</text>
<text x="2574.4" y="402" font-size="20" fill="#4d4d4d" textLength="104.6" lengthAdjust="spacingAndGlyphs" stroke="#4d4d4d" stroke-width="0.15">2,200.00%</text>
<text x="2574.4" y="324" font-size="20" fill="#4d4d4d" textLength="104.6" lengthAdjust="spacingAndGlyphs" stroke="#4d4d4d" stroke-width="0.15">2,400.00%</text>
<text x="2574.4" y="245" font-size="20" fill="#4d4d4d" textLength="104.6" lengthAdjust="spacingAndGlyphs" stroke="#4d4d4d" stroke-width="0.15">2,600.00%</text>
<text x="2574.4" y="1262" font-size="20" fill="#4d4d4d" textLength="61.2" lengthAdjust="spacingAndGlyphs" stroke="#4d4d4d" stroke-width="0.15">0.00%</text>
<rect x="2565" y="116" width="138" height="46" rx="6" fill="#fff" stroke="#e6e8f0" stroke-width="1"/>
<text x="2581.7" y="145.7" font-size="19.5" fill="#131722" textLength="40.4" lengthAdjust="spacingAndGlyphs" stroke="#131722" stroke-width="0.2">USD</text>
<circle cx="2588.6" cy="169.1" r="0.8" fill="#8a8684"/>
<path d="M2469.5 705H2556.8V734H2469.5a3.5 3.5 0 0 1 -3.5 -3.5V708.5a3.5 3.5 0 0 1 3.5 -3.5z" fill="#6ba583"/>
<path d="M2557.9 705H2697.7a3.5 3.5 0 0 1 3.5 3.5V753.2a3.5 3.5 0 0 1 -3.5 3.5H2557.9z" fill="#6ba583"/>
<text x="2475.3" y="726.4" font-size="20" fill="#fff" textLength="72.3" lengthAdjust="spacingAndGlyphs" stroke="#fff" stroke-width="0.25">TOTAL2</text>
<text x="2574.8" y="726.4" font-size="20" fill="#fff" textLength="117.1" lengthAdjust="spacingAndGlyphs" stroke="#fff" stroke-width="0.25">+1,371.73%</text>
<text x="2574.8" y="747.9" font-size="20" fill="#fff" textLength="65.9" lengthAdjust="spacingAndGlyphs" stroke="#fff" stroke-width="0.15" fill-opacity="0.72">2d 17h</text>
<path d="M2462.7 976H2556.8V1005H2462.7a3.5 3.5 0 0 1 -3.5 -3.5V979.5a3.5 3.5 0 0 1 3.5 -3.5z" fill="#aa00ff"/>
<path d="M2557.9 976H2679.9a3.5 3.5 0 0 1 3.5 3.5V1001.4a3.5 3.5 0 0 1 -3.5 3.5H2557.9z" fill="#aa00ff"/>
<text x="2468" y="997.4" font-size="20" fill="#fff" textLength="79.9" lengthAdjust="spacingAndGlyphs" stroke="#fff" stroke-width="0.25">BTCUSD</text>
<text x="2574.8" y="997.4" font-size="20" fill="#fff" textLength="98.6" lengthAdjust="spacingAndGlyphs" stroke="#fff" stroke-width="0.25">+677.67%</text>
<path d="M2505.7 1213.2H2556.8V1242.2H2505.7a3.5 3.5 0 0 1 -3.5 -3.5V1216.7a3.5 3.5 0 0 1 3.5 -3.5z" fill="#c2185b"/>
<path d="M2557.9 1213.2H2666.4a3.5 3.5 0 0 1 3.5 3.5V1238.6a3.5 3.5 0 0 1 -3.5 3.5H2557.9z" fill="#c2185b"/>
<text x="2511.3" y="1234.6" font-size="20" fill="#fff" textLength="36.6" lengthAdjust="spacingAndGlyphs" stroke="#fff" stroke-width="0.25">SPX</text>
<text x="2574.8" y="1234.6" font-size="20" fill="#fff" textLength="86.3" lengthAdjust="spacingAndGlyphs" stroke="#fff" stroke-width="0.25">+72.08%</text>
<text x="18.2" y="1364.8" font-size="20.4" fill="#4d4d4d" textLength="51.2" lengthAdjust="spacing" font-weight="bold" stroke="#4d4d4d" stroke-width="0.15">2020</text>
<text x="508.8" y="1364.8" font-size="20.4" fill="#4d4d4d" textLength="51.2" lengthAdjust="spacing" font-weight="bold" stroke="#4d4d4d" stroke-width="0.15">2021</text>
<text x="999.4" y="1364.8" font-size="20.4" fill="#4d4d4d" textLength="51.2" lengthAdjust="spacing" font-weight="bold" stroke="#4d4d4d" stroke-width="0.15">2022</text>
<text x="1490" y="1364.8" font-size="20.4" fill="#4d4d4d" textLength="51.2" lengthAdjust="spacing" font-weight="bold" stroke="#4d4d4d" stroke-width="0.15">2023</text>
<text x="1980.6" y="1364.8" font-size="20.4" fill="#4d4d4d" textLength="51.2" lengthAdjust="spacing" font-weight="bold" stroke="#4d4d4d" stroke-width="0.15">2024</text>
<text x="2480.7" y="1364.8" font-size="20.4" fill="#4d4d4d" textLength="51.2" lengthAdjust="spacing" font-weight="bold" stroke="#4d4d4d" stroke-width="0.15">2025</text>
<text x="185.1" y="1364.8" font-size="20" fill="#4d4d4d" textLength="37.8" lengthAdjust="spacingAndGlyphs" stroke="#4d4d4d" stroke-width="0.15">May</text>
<text x="675.7" y="1364.8" font-size="20" fill="#4d4d4d" textLength="37.8" lengthAdjust="spacingAndGlyphs" stroke="#4d4d4d" stroke-width="0.15">May</text>
<text x="1166.3" y="1364.8" font-size="20" fill="#4d4d4d" textLength="37.8" lengthAdjust="spacingAndGlyphs" stroke="#4d4d4d" stroke-width="0.15">May</text>
<text x="1656.9" y="1364.8" font-size="20" fill="#4d4d4d" textLength="37.8" lengthAdjust="spacingAndGlyphs" stroke="#4d4d4d" stroke-width="0.15">May</text>
<text x="2156.9" y="1364.8" font-size="20" fill="#4d4d4d" textLength="37.8" lengthAdjust="spacingAndGlyphs" stroke="#4d4d4d" stroke-width="0.15">May</text>
<text x="356.4" y="1364.8" font-size="20" fill="#4d4d4d" textLength="35.2" lengthAdjust="spacingAndGlyphs" stroke="#4d4d4d" stroke-width="0.15">Sep</text>
<text x="847" y="1364.8" font-size="20" fill="#4d4d4d" textLength="35.2" lengthAdjust="spacingAndGlyphs" stroke="#4d4d4d" stroke-width="0.15">Sep</text>
<text x="1337.6" y="1364.8" font-size="20" fill="#4d4d4d" textLength="35.2" lengthAdjust="spacingAndGlyphs" stroke="#4d4d4d" stroke-width="0.15">Sep</text>
<text x="1828.2" y="1364.8" font-size="20" fill="#4d4d4d" textLength="35.2" lengthAdjust="spacingAndGlyphs" stroke="#4d4d4d" stroke-width="0.15">Sep</text>
<text x="2318.8" y="1364.8" font-size="20" fill="#4d4d4d" textLength="35.2" lengthAdjust="spacingAndGlyphs" stroke="#4d4d4d" stroke-width="0.15">Sep</text>
<text x="18.6" y="36.2" font-size="22.4" fill="#d1d4dc" textLength="732.6" lengthAdjust="spacingAndGlyphs" stroke="#d1d4dc" stroke-width="0.3">bitcoinwallah published on TradingView.com, Aug 16, 2024 03:19 UTC-4</text>
<path d="M18.3 1405.9h14v17.7h-7v-10.6h-7zM45.7 1405.9h8.1l-7.4 17.7h-8.2z" fill="#d1d4dc"/><circle cx="38.2" cy="1409.7" r="3.8" fill="#d1d4dc"/>
<text x="60" y="1424.7" font-size="23.2" fill="#d1d4dc" textLength="133" lengthAdjust="spacingAndGlyphs" stroke="#d1d4dc" stroke-width="0.4">TradingView</text>
<text x="32.5" y="85.1" font-size="22" fill="#4d4d4d" textLength="143" lengthAdjust="spacingAndGlyphs" stroke="#4d4d4d" stroke-width="0.3">RSI (14, close)</text>
<text x="191" y="85.1" font-size="22" fill="#7e57c2" textLength="57.4" lengthAdjust="spacingAndGlyphs" stroke="#7e57c2" stroke-width="0.3">43.85</text>
<text x="262.4" y="85.1" font-size="22" fill="#ffeb3b" textLength="57.2" lengthAdjust="spacingAndGlyphs" stroke="#ffeb3b" stroke-width="0.3">54.00</text>
<text x="333.9" y="85.1" font-size="17.16" fill="#4d4d4d" stroke="#4d4d4d" stroke-width="0.3" font-family="'DejaVu Sans', sans-serif">∅</text>
<text x="361.7" y="85.1" font-size="17.16" fill="#4d4d4d" stroke="#4d4d4d" stroke-width="0.3" font-family="'DejaVu Sans', sans-serif">∅</text>
<text x="389.4" y="85.1" font-size="17.16" fill="#4d4d4d" stroke="#4d4d4d" stroke-width="0.3" font-family="'DejaVu Sans', sans-serif">∅</text>
<text x="417.2" y="85.1" font-size="17.16" fill="#4d4d4d" stroke="#4d4d4d" stroke-width="0.3" font-family="'DejaVu Sans', sans-serif">∅</text>
<text x="444.9" y="85.1" font-size="17.16" fill="#4d4d4d" stroke="#4d4d4d" stroke-width="0.3" font-family="'DejaVu Sans', sans-serif">∅</text>
<text x="472.7" y="85.1" font-size="17.16" fill="#4d4d4d" stroke="#4d4d4d" stroke-width="0.3" font-family="'DejaVu Sans', sans-serif">∅</text>
<text x="32.4" y="144.8" font-size="22" fill="#4d4d4d" textLength="609.7" lengthAdjust="spacingAndGlyphs" stroke="#4d4d4d" stroke-width="0.3">Crypto Total Market Cap Excluding BTC, $, 1W, CRYPTOCAP</text>
<text x="656" y="144.8" font-size="22" fill="#1d5b34" textLength="118.3" lengthAdjust="spacingAndGlyphs" stroke="#1d5b34" stroke-width="0.3"><tspan fill="#4d4d4d" stroke="#4d4d4d">O</tspan>855.336 B</text>
<text x="788.6" y="144.8" font-size="22" fill="#1d5b34" textLength="109.8" lengthAdjust="spacingAndGlyphs" stroke="#1d5b34" stroke-width="0.3"><tspan fill="#4d4d4d" stroke="#4d4d4d">H</tspan>911.475 B</text>
<text x="912.7" y="144.8" font-size="22" fill="#1d5b34" textLength="110.9" lengthAdjust="spacingAndGlyphs" stroke="#1d5b34" stroke-width="0.3"><tspan fill="#4d4d4d" stroke="#4d4d4d">L</tspan>846.941 B</text>
<text x="1037.9" y="144.8" font-size="22" fill="#1d5b34" textLength="113.9" lengthAdjust="spacingAndGlyphs" stroke="#1d5b34" stroke-width="0.3"><tspan fill="#4d4d4d" stroke="#4d4d4d">C</tspan>874.022 B</text>
<text x="1165.5" y="144.8" font-size="22" fill="#1d5b34" textLength="197.9" lengthAdjust="spacingAndGlyphs" stroke="#1d5b34" stroke-width="0.3">+19.005 B (+2.22%)</text>
<text x="32.4" y="176" font-size="22" fill="#4d4d4d" textLength="30" lengthAdjust="spacingAndGlyphs" stroke="#4d4d4d" stroke-width="0.3">Vol</text>
<text x="76.8" y="176" font-size="22" fill="#26a69a" textLength="92.5" lengthAdjust="spacingAndGlyphs" stroke="#26a69a" stroke-width="0.3">817.601 B</text>
<text x="32.4" y="207" font-size="22" fill="#4d4d4d" textLength="86" lengthAdjust="spacingAndGlyphs" stroke="#4d4d4d" stroke-width="0.3">SPX · SP</text>
<text x="131.8" y="207" font-size="22" fill="#c2185b" textLength="76.8" lengthAdjust="spacingAndGlyphs" stroke="#c2185b" stroke-width="0.3">72.08%</text>
<text x="32.4" y="237.7" font-size="22" fill="#4d4d4d" textLength="211.4" lengthAdjust="spacingAndGlyphs" stroke="#4d4d4d" stroke-width="0.3">BTCUSD · BITSTAMP</text>
<text x="258.4" y="237.7" font-size="22" fill="#aa00ff" textLength="85.7" lengthAdjust="spacingAndGlyphs" stroke="#aa00ff" stroke-width="0.3">677.67%</text>
</svg>
</body></html>
